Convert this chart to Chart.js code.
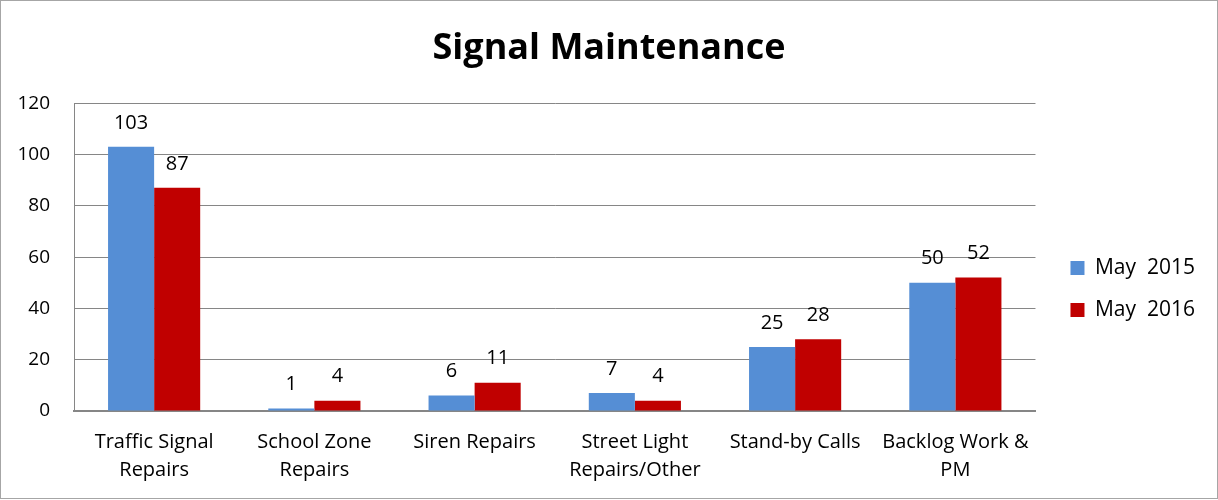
<!DOCTYPE html>
<html>
<head>
<meta charset="utf-8">
<script src="https://cdn.jsdelivr.net/npm/chart.js@4/dist/chart.umd.min.js"></script>
<style>
  html, body { margin: 0; padding: 0; background: #fff; }
  .frame { width: 1216px; height: 497px; border: 1px solid #a6a6a6; }
  canvas { display: block; }
</style>
</head>
<body>
<div class="frame"><canvas id="chart" width="1216" height="497"></canvas></div>
<script>
const categories = [
    ["Traffic Signal", "Repairs"],
    ["School Zone", "Repairs"],
    "Siren Repairs",
    ["Street Light", "Repairs/Other"],
    "Stand-by Calls",
    ["Backlog Work &", "PM"]
];
const may2015 = [103, 1, 6, 7, 25, 50];
const may2016 = [87, 4, 11, 4, 28, 52];
const yTicks = [0, 20, 40, 60, 80, 100, 120];

const FONT = "'Open Sans', 'Liberation Sans', sans-serif";

// value printed above every bar
const valueLabels = {
    id: "valueLabels",
    afterDatasetsDraw(chart) {
        const ctx = chart.ctx;
        ctx.save();
        ctx.font = "20px " + FONT;
        ctx.fillStyle = "#000";
        ctx.textAlign = "center";
        ctx.textBaseline = "bottom";
        chart.data.datasets.forEach((ds, i) => {
            chart.getDatasetMeta(i).data.forEach((bar, j) => {
                ctx.fillText(ds.data[j], bar.x, bar.y - 14);
            });
        });
        ctx.restore();
    }
};

// nudge legend and title so they sit where the original has them
const layoutNudge = {
    id: "layoutNudge",
    afterLayout(chart) {
        const lg = chart.legend;
        lg.left += 14; lg.right += 14;
        lg.top += 38; lg.bottom += 38;
        const t = chart.titleBlock;
        t.left += 13; t.right += 13;
    }
};

new Chart(document.getElementById("chart"), {
    type: "bar",
    data: {
        labels: categories,
        datasets: [
            { label: "May  2015", data: may2015, backgroundColor: "#558ed5" },
            { label: "May  2016", data: may2016, backgroundColor: "#c00000" }
        ]
    },
    options: {
        responsive: false,
        animation: false,
        layout: { padding: { left: 0, right: 26, top: 0, bottom: -3 } },
        datasets: { bar: { categoryPercentage: 0.575, barPercentage: 1 } },
        plugins: {
            title: {
                display: true,
                text: "Signal Maintenance",
                color: "#000",
                font: { family: FONT, size: 36, weight: "bold" },
                padding: { top: 26, bottom: 33 }
            },
            legend: {
                position: "right",
                labels: {
                    color: "#000",
                    font: { family: FONT, size: 21 },
                    boxWidth: 14,
                    boxHeight: 14,
                    padding: 21
                }
            },
            tooltip: { enabled: false }
        },
        scales: {
            x: {
                afterFit: s => { s.paddingLeft = 0; s.paddingRight = 0; },
                grid: { display: false, drawTicks: false },
                border: { display: true, color: "#868686", width: 2 },
                ticks: {
                    color: "#000",
                    font: { family: FONT, size: 20, lineHeight: 1.4 },
                    padding: 17,
                    maxRotation: 0,
                    autoSkip: false
                }
            },
            y: {
                min: 0,
                max: 120,
                afterBuildTicks: axis => { axis.ticks = yTicks.map(v => ({ value: v })); },
                afterFit: axis => { axis.width = 73; },
                grid: { color: "#868686", drawTicks: false },
                border: { display: true, color: "#868686" },
                ticks: { color: "#000", font: { family: FONT, size: 19 }, padding: 24 }
            }
        }
    },
    plugins: [valueLabels, layoutNudge]
});
</script>
</body>
</html>
